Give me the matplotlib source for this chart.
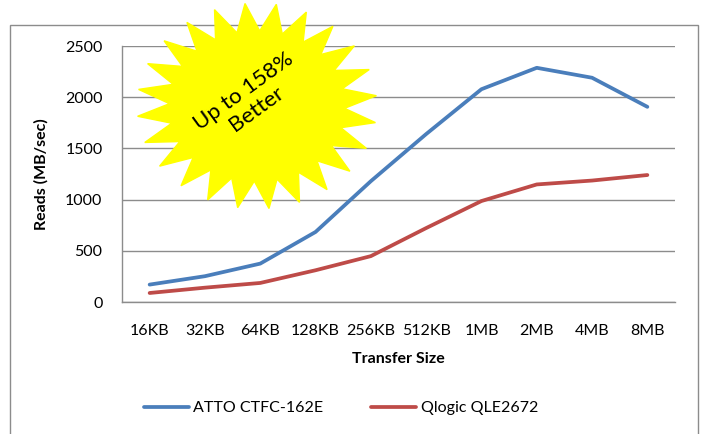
import matplotlib.pyplot as plt
import numpy as np
from matplotlib.patches import Polygon, Rectangle

plt.rcParams['font.family'] = ['Lato', 'DejaVu Sans']

# data
sizes = ['16KB', '32KB', '64KB', '128KB', '256KB', '512KB', '1MB', '2MB', '4MB', '8MB']
atto = [170, 252, 375, 684, 1180, 1640, 2078, 2287, 2190, 1906]
qlogic = [88, 140, 186, 310, 448, 722, 986, 1148, 1186, 1240]
y_ticks = [0, 500, 1000, 1500, 2000, 2500]

W, H = 704, 434
fig = plt.figure(figsize=(W / 100, H / 100), dpi=100)

def fx(px):
    return px / W

def fy(py):
    return 1 - py / H

# outer chart border
fig.patches.append(Rectangle((fx(10), fy(440)), fx(698) - fx(10), fy(25) - fy(440),
                             transform=fig.transFigure, fill=False,
                             edgecolor='#8c8c8c', linewidth=1.0, zorder=0))

ax = fig.add_axes([fx(122), fy(302), fx(675) - fx(122), fy(46) - fy(302)])
x = np.arange(len(sizes))
ax.plot(x, atto, color='#4A7EBB', linewidth=2.7, solid_capstyle='round', label='ATTO CTFC-162E')
ax.plot(x, qlogic, color='#BE4B48', linewidth=2.7, solid_capstyle='round', label='Qlogic QLE2672')

ax.set_xlim(-0.5, len(sizes) - 0.5)
ax.set_ylim(0, 2500)
ax.set_yticks(y_ticks)
ax.set_xticks(x)
ax.set_xticklabels(sizes)
ax.tick_params(axis='both', length=0, labelsize=11.5, colors='black')
ax.tick_params(axis='x', pad=16)
ax.tick_params(axis='y', pad=14)
ax.grid(axis='y', color='#8c8c8c', linewidth=1.0)
ax.set_axisbelow(True)
for s in ['top', 'right']:
    ax.spines[s].set_visible(False)
for s in ['left', 'bottom']:
    ax.spines[s].set_color('#8c8c8c')
    ax.spines[s].set_linewidth(1.0)

ax.set_xlabel('Transfer Size', fontsize=11.5, fontweight='bold', labelpad=10)
ax.set_ylabel('Reads (MB/sec)', fontsize=11.5, fontweight='bold', labelpad=12)

ax.legend(loc='center', bbox_to_anchor=(fx(341), fy(408)), bbox_transform=fig.transFigure,
          ncol=2, frameon=False, fontsize=11.5, handlelength=2.8, columnspacing=3.0,
          handletextpad=0.3)

# starburst callout
cx, cy, rx, ry = 257, 106, 120, 103
n = 24
ang = np.linspace(0, 2 * np.pi, 2 * n, endpoint=False) + 0.1
rad = np.where(np.arange(2 * n) % 2 == 0, 1.0, 0.73)
pts = [(fx(cx + rx * r * np.cos(a)), fy(cy - ry * r * np.sin(a))) for a, r in zip(ang, rad)]
fig.patches.append(Polygon(pts, closed=True, transform=fig.transFigure,
                           facecolor='#FFFF00', edgecolor='#FFFF00', zorder=5))
fig.text(fx(250), fy(100), 'Up to 158%\nBetter', rotation=36, ha='center', va='center',
         fontsize=16, linespacing=1.1, rotation_mode='anchor', zorder=6)

fig.savefig('out.png', dpi=100)
